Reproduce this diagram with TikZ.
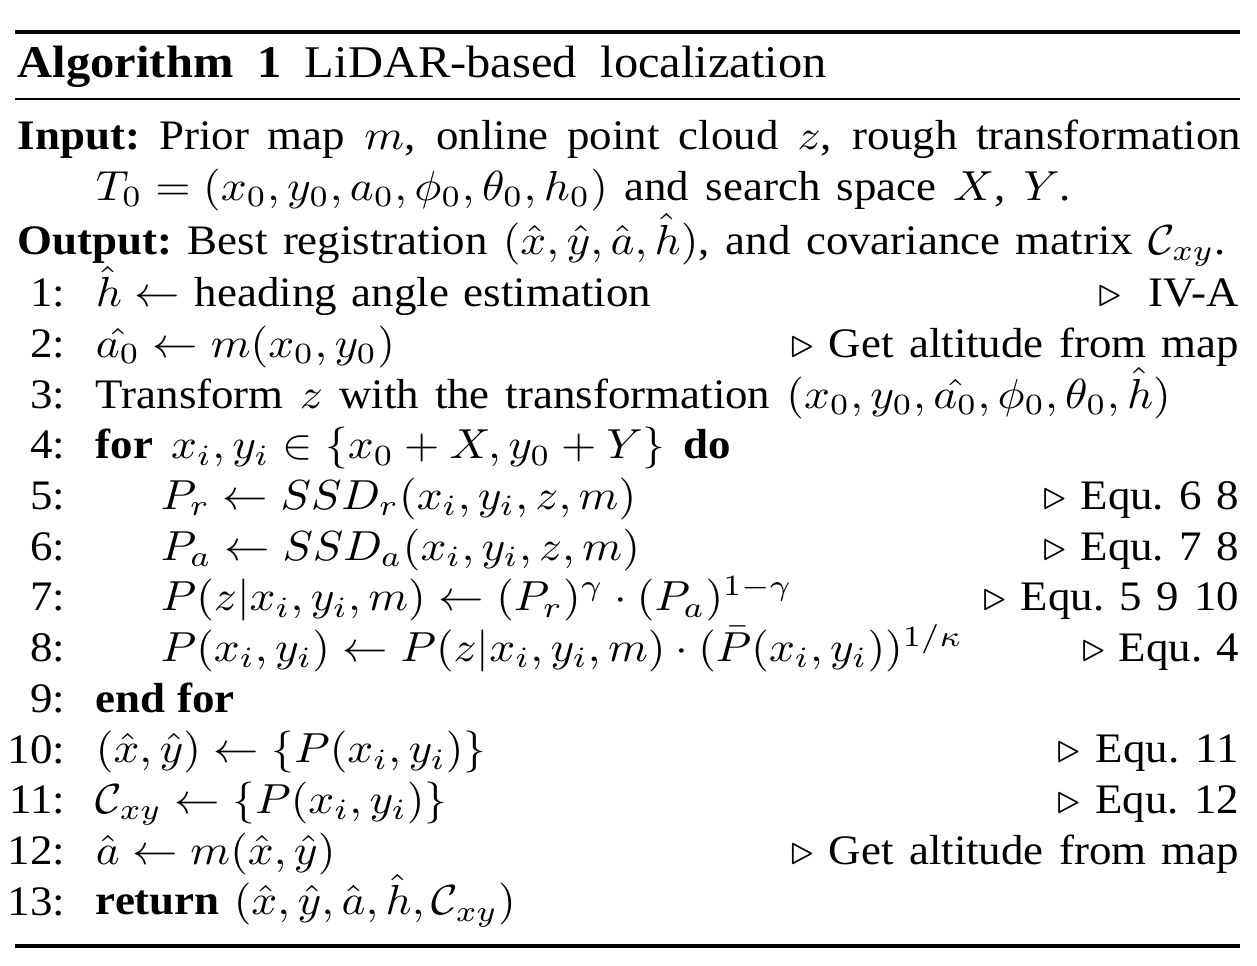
\documentclass[tikz,border=0pt]{standalone}
\usepackage[no-math]{fontspec}
\setmainfont{Liberation Serif}[FakeStretch=0.99]
\newcommand{\algfont}{\fontsize{10}{12}\selectfont\spaceskip=0.25em plus 1fil\xspaceskip=0.25em plus 1fil\relax}
\newcommand{\spreadline}[2]{\makebox[#1pt][s]{#2}}
\begin{document}
\begin{tikzpicture}[x=0.22046pt,y=-0.238095pt,xscale=4.536,yscale=4.2,transform shape,
    every node/.style={inner sep=0pt,font=\algfont},
    num/.style={anchor=base east},
    stmt/.style={anchor=base west},
    cmt/.style={anchor=base east}]
    \useasboundingbox (0,0) rectangle (1257,965);
    \coordinate (L) at (95,0);
    \coordinate (M) at (160,0);
    \coordinate (R) at (1240,0);
    %RULES
    \draw[line width=3.4pt] (15,32) -- (1240,32);
    \draw[line width=1.7pt] (15,99) -- (1240,99);
    \draw[line width=3.4pt] (15,946) -- (1240,946);
    %CAPTION
    \node[stmt,font=\algfont\fontsize{10.8}{13}\selectfont] (cap) at (17,77) {\spreadline{178.35}{\textbf{Algorithm 1} LiDAR-based localization}};
    %INPUT AND OUTPUT
    \node[stmt] (in1) at (17,149.5) {\spreadline{269.62}{\textbf{Input:} Prior map $m$, online point cloud $z$, rough transformation}};
    \node[stmt] (in2) at (95,200) {\spreadline{214.95}{$T_0=(x_0,y_0,a_0,\phi_0,\theta_0,h_0)$ and search space $X$, $Y$.}};
    \node[stmt] (out) at (17,254) {\spreadline{266.31}{\textbf{Output:} Best registration $(\hat{x},\hat{y},\hat{a},\hat{h})$, and covariance matrix $\mathcal{C}_{xy}$.}};
    %LINE NUMBERS
    \foreach \i in {1,...,13}
        \node[num] (n\i) at (66,{256+50.7*\i}) {\i:};
    %STATEMENTS
    \node[stmt] (s1) at (L |- n1.base) {\spreadline{122.35}{$\hat{h}\leftarrow$ heading angle estimation}};
    \node[stmt] (s2) at (L |- n2.base) {$\hat{a_0}\leftarrow m(x_0,y_0)$};
    \node[stmt] (s3) at (L |- n3.base) {\spreadline{236.99}{Transform $z$ with the transformation $(x_0,y_0,\hat{a_0},\phi_0,\theta_0,\hat{h})$}};
    \node[stmt] (s4) at (L |- n4.base) {\spreadline{139.99}{\textbf{for} $x_i,y_i\in\{x_0+X,y_0+Y\}$ \textbf{do}}};
    \node[stmt] (s5) at (M |- n5.base) {$P_r\leftarrow SSD_r(x_i,y_i,z,m)$};
    \node[stmt] (s6) at (M |- n6.base) {$P_a\leftarrow SSD_a(x_i,y_i,z,m)$};
    \node[stmt] (s7) at (M |- n7.base) {$P(z|x_i,y_i,m)\leftarrow(P_r)^\gamma\cdot(P_a)^{1-\gamma}$};
    \node[stmt] (s8) at (M |- n8.base) {$P(x_i,y_i)\leftarrow P(z|x_i,y_i,m)\cdot(\bar{P}(x_i,y_i))^{1/\kappa}$};
    \node[stmt] (s9) at (L |- n9.base) {\textbf{end for}};
    \node[stmt] (s10) at (L |- n10.base) {$(\hat{x},\hat{y})\leftarrow\{P(x_i,y_i)\}$};
    \node[stmt] (s11) at (L |- n11.base) {$\mathcal{C}_{xy}\leftarrow\{P(x_i,y_i)\}$};
    \node[stmt] (s12) at (L |- n12.base) {$\hat{a}\leftarrow m(\hat{x},\hat{y})$};
    \node[stmt] (s13) at (L |- n13.base) {\spreadline{92.59}{\textbf{return} $(\hat{x},\hat{y},\hat{a},\hat{h},\mathcal{C}_{xy})$}};
    %COMMENTS
    \node[cmt] (c1) at (R |- n1.base) {$\triangleright$\hspace{0.6em}IV-A};
    \node[cmt] (c2) at (R |- n2.base) {\spreadline{98.77}{$\triangleright$ Get altitude from map}};
    \node[cmt] (c5) at (R |- n5.base) {\spreadline{43.21}{$\triangleright$ Equ. 6 8}};
    \node[cmt] (c6) at (R |- n6.base) {\spreadline{43.21}{$\triangleright$ Equ. 7 8}};
    \node[cmt] (c7) at (R |- n7.base) {\spreadline{56.44}{$\triangleright$ Equ. 5 9 10}};
    \node[cmt] (c8) at (R |- n8.base) {\spreadline{34.61}{$\triangleright$ Equ. 4}};
    \node[cmt] (c10) at (R |- n10.base) {\spreadline{40.12}{$\triangleright$ Equ. 11}};
    \node[cmt] (c11) at (R |- n11.base) {\spreadline{40.12}{$\triangleright$ Equ. 12}};
    \node[cmt] (c12) at (R |- n12.base) {\spreadline{98.77}{$\triangleright$ Get altitude from map}};
\end{tikzpicture}
\end{document}
